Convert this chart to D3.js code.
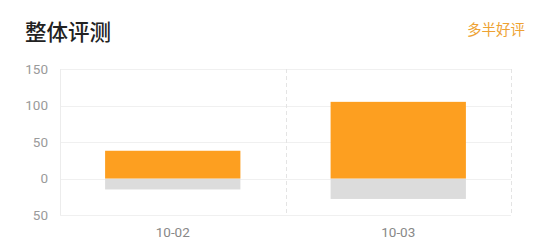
<!DOCTYPE html>
<html>
<head>
<meta charset="utf-8">
<script src="https://cdn.jsdelivr.net/npm/d3@7"></script>
<style>
  body { margin: 0; background: #fff; }
  svg { display: block; font-family: Roboto, 'Noto Sans CJK SC', sans-serif; }
</style>
</head>
<body>
<svg id="chart" width="550" height="252"></svg>
<script>
// chart data
const categories = ['10-02', '10-03']
const positive = [38, 105]
const negative = [-15, -28]
const yTicks = [150, 100, 50, 0, -50]
const title = '整体评测'
const verdict = '多半好评'

let svg = d3.select('#chart')
let margin = {top: 69, right: 39, bottom: 37, left: 60}
let width = 550 - margin.left - margin.right
let height = 252 - margin.top - margin.bottom

svg.append('text')
    .attr('x', 25)
    .attr('y', 40)
    .attr('font-family', "'Noto Sans CJK SC', sans-serif")
    .attr('font-size', 21.5)
    .attr('font-weight', 500)
    .attr('fill', '#222')
    .text(title)

svg.append('text')
    .attr('x', 525)
    .attr('y', 35)
    .attr('text-anchor', 'end')
    .attr('font-family', "'Noto Sans CJK SC', sans-serif")
    .attr('font-size', 14.5)
    .attr('fill', '#eea233')
    .text(verdict)

let g = svg.append('g')
    .attr('transform', 'translate(' + margin.left + ',' + margin.top + ')')

let x = d3.scaleBand()
    .range([0, width])
    .domain(categories)
    .paddingInner(0)
    .paddingOuter(0)

let y = d3.scaleLinear()
    .range([height, 0])
    .domain([-50, 150])

// horizontal grid
g.append('g')
  .selectAll('line')
    .data(yTicks)
  .enter().append('line')
    .attr('x1', 0)
    .attr('x2', width)
    .attr('y1', d => Math.round(y(d)) + 0.5)
    .attr('y2', d => Math.round(y(d)) + 0.5)
    .style('stroke', '#f0f0f0')

// left axis line
g.append('line')
    .attr('x1', 0.5).attr('x2', 0.5)
    .attr('y1', 0).attr('y2', height)
    .style('stroke', '#ececec')

// dashed category separators
g.append('g')
  .selectAll('line')
    .data(categories)
  .enter().append('line')
    .attr('x1', d => Math.round(x(d) + x.bandwidth()) + 0.5)
    .attr('x2', d => Math.round(x(d) + x.bandwidth()) + 0.5)
    .attr('y1', 0)
    .attr('y2', height)
    .style('stroke', '#e4e4e4')
    .style('stroke-dasharray', '4,3')

let barW = x.bandwidth() * 0.6
let off = (x.bandwidth() - barW) / 2

g.append('g')
  .selectAll('rect')
    .data(categories)
  .enter().append('rect')
    .attr('x', d => x(d) + off)
    .attr('width', barW)
    .attr('y', y(0))
    .attr('height', (d, i) => y(negative[i]) - y(0))
    .attr('fill', '#dcdcdc')

g.append('g')
  .selectAll('rect')
    .data(categories)
  .enter().append('rect')
    .attr('x', d => x(d) + off)
    .attr('width', barW)
    .attr('y', (d, i) => y(positive[i]))
    .attr('height', (d, i) => y(0) - y(positive[i]))
    .attr('fill', '#fd9f20')

// y tick labels
let yAxis = g.append('g')
    .call(d3.axisLeft(y).tickValues(yTicks).tickFormat(d => Math.abs(d)).tickSize(0).tickPadding(12))

yAxis.select('.domain').remove()
yAxis.selectAll('text')
    .attr('font-family', 'Roboto, sans-serif')
    .attr('font-size', 13.5)
    .attr('fill', '#9a9a9a')

// x tick labels
let xAxis = g.append('g')
    .attr('transform', 'translate(0,' + height + ')')
    .call(d3.axisBottom(x).tickSize(0).tickPadding(12))

xAxis.select('.domain').remove()
xAxis.selectAll('text')
    .attr('font-family', 'Roboto, sans-serif')
    .attr('font-size', 13.5)
    .attr('fill', '#888')
</script>
</body>
</html>
